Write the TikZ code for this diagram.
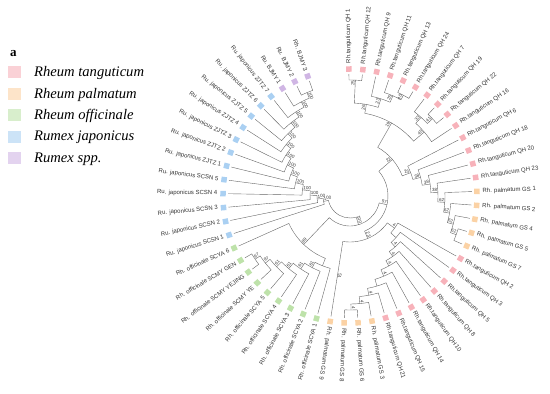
\documentclass[tikz,border=0pt]{standalone}
\usepackage{fontspec}
\setmainfont{Liberation Serif}
\newfontfamily\labfont{Liberation Sans}
\definecolor{tang}{RGB}{247,178,186}
\definecolor{palm}{RGB}{251,210,165}
\definecolor{offi}{RGB}{190,226,170}
\definecolor{japo}{RGB}{170,208,242}
\definecolor{rspp}{RGB}{208,182,228}
\tikzset{
  branch/.style={draw=black!60,line width=0.4pt},
  leafbox/.style={minimum size=5.5pt,inner sep=0pt},
  leaflab/.style={inner sep=0pt,text=black!80,font=\labfont\fontsize{6}{7}\selectfont},
  boot/.style={inner sep=0.6pt,text=black!80,font=\labfont\fontsize{4.5}{5}\selectfont},
  keybox/.style={minimum width=13pt,minimum height=12pt,inner sep=0pt},
  keytxt/.style={inner sep=0pt,anchor=base west,font=\itshape\fontsize{14.6}{16}\selectfont}
}
% clade: radius, first angle, its radius, last angle, its radius
\newcommand{\clade}[5]{\draw[branch] (#2:#3) -- (#2:#1) arc[start angle=#2,end angle=#4,radius=#1] -- (#4:#5);}
% bootstrap value at a node
\newcommand{\bsv}[3]{\ifdim#1pt>-100pt
  \node[boot,rotate=#1,anchor=south east] at (#1:#2) {#3};
  \else
  \node[boot,rotate=#1+180,anchor=south west] at (#1:#2) {#3};
  \fi}

\begin{document}
\begin{tikzpicture}[x=1pt,y=1pt]
\useasboundingbox (-350,-198) rectangle (200,196);

% legend
\node[font=\bfseries\fontsize{13}{13}\selectfont,inner sep=0pt] (keya) at (-336.7,142.7) {a};
\node[keybox,fill=tang!60] (k1) at (-335.5,123.7) {};
\node[keytxt] (t1) at (-316,119.3) {Rheum tanguticum};
\node[keybox,fill=palm!60] (k2) at (-335.5,102.3) {};
\node[keytxt] (t2) at (-316,97.9) {Rheum palmatum};
\node[keybox,fill=offi!60] (k3) at (-335.5,80.9) {};
\node[keytxt] (t3) at (-316,76.5) {Rheum officinale};
\node[keybox,fill=japo!60] (k4) at (-335.5,59.5) {};
\node[keytxt] (t4) at (-316,55.1) {Rumex japonicus};
\node[keybox,fill=rspp!60] (k5) at (-335.5,38.1) {};
\node[keytxt] (t5) at (-316,33.7) {Rumex spp.};

% leaves
\foreach \i/\txt/\col in {
 0/{Rh.tanguticum QH 1}/tang, 1/{Rh.tanguticum QH 12}/tang, 2/{Rh.tanguticum QH 9}/tang,
 3/{Rh.tanguticum QH 11}/tang, 4/{Rh.tanguticum QH 13}/tang, 5/{Rh.tanguticum QH 24}/tang,
 6/{Rh.tanguticum QH 7}/tang, 7/{Rh.tanguticum QH 19}/tang, 8/{Rh.tanguticum QH 22}/tang,
 9/{Rh.tanguticum QH 16}/tang, 10/{Rh.tanguticum QH 6}/tang, 11/{Rh.tanguticum QH 18}/tang,
 12/{Rh.tanguticum QH 20}/tang, 13/{Rh.tanguticum QH 23}/tang, 14/{Rh. palmatum GS 1}/palm,
 15/{Rh. palmatum GS 2}/palm, 16/{Rh. palmatum GS 4}/palm, 17/{Rh. palmatum GS 5}/palm,
 18/{Rh. palmatum GS 7}/palm, 19/{Rh.tanguticum QH 2}/tang, 20/{Rh.tanguticum QH 3}/tang,
 21/{Rh.tanguticum QH 5}/tang, 22/{Rh.tanguticum QH 8}/tang, 23/{Rh.tanguticum QH 10}/tang,
 24/{Rh.tanguticum QH 14}/tang, 25/{Rh.tanguticum QH 15}/tang, 26/{Rh.tanguticum QH 21}/tang,
 27/{Rh. palmatum GS 3}/palm, 28/{Rh. palmatum GS 6}/palm, 29/{Rh. palmatum GS 8}/palm,
 30/{Rh. palmatum GS 9}/palm, 31/{Rh. officinale SCYA 1}/offi, 32/{Rh. officinale SCYA 2}/offi,
 33/{Rh. officinale SCYA 3}/offi, 34/{Rh. officinale SCYA 4}/offi, 35/{Rh. officinale SCYA 5}/offi,
 36/{Rh. officinale SCMY YE}/offi, 37/{Rh. officinale SCMY YEJING}/offi,
 38/{Rh. officinale SCMY GEN}/offi, 39/{Rh. officinale SCYA 6}/offi,
 40/{Ru. japonicus SCSN 1}/japo, 41/{Ru. japonicus SCSN 2}/japo, 42/{Ru. japonicus SCSN 3}/japo,
 43/{Ru. japonicus SCSN 4}/japo, 44/{Ru. japonicus SCSN 5}/japo, 45/{Ru. japonicus ZJTZ 1}/japo,
 46/{Ru. japonicus ZJTZ 2}/japo, 47/{Ru. japonicus ZJTZ 3}/japo, 48/{Ru. japonicus ZJTZ 4}/japo,
 49/{Ru. japonicus ZJTZ 5}/japo, 50/{Ru. japonicus ZJTZ 6}/japo, 51/{Ru. japonicus ZJTZ 7}/japo,
 52/{Ru. BJMY 1}/rspp, 53/{Ru. BJMY 2}/rspp, 54/{Rh. BJMY 3}/rspp}{
  \pgfmathsetmacro\a{90.5-6.3158*\i}
  \node[leafbox,fill=\col,rotate=\a] (l\i) at (\a:127) {};
  \ifnum\i<31
    \node[leaflab,rotate=\a,anchor=west] (n\i) at (\a:132.5) {\txt};
  \else
    \node[leaflab,rotate=\a+180,anchor=east] (n\i) at (\a:132.5) {\txt};
  \fi
}

% tanguticum QH 1 - QH 16
\clade{116}{90.50}{122}{84.18}{122} \bsv{87.34}{116}{25}
\clade{114}{65.24}{122}{58.92}{122} \bsv{62.08}{114}{40}
\clade{109}{71.55}{122}{62.08}{114} \bsv{66.82}{109}{25}
\clade{102}{77.87}{122}{66.82}{109} \bsv{72.35}{102}{23}
\clade{93}{87.34}{116}{72.35}{102} \bsv{79.85}{93}{26}
\clade{113}{46.29}{122}{39.97}{122} \bsv{43.13}{113}{41}
\clade{106}{52.61}{122}{43.13}{113} \bsv{47.87}{106}{33}
\clade{98}{47.87}{106}{33.66}{122} \bsv{40.77}{98}{45}
\clade{84}{79.85}{93}{40.77}{98} \bsv{60.31}{84}{19}
% QH 6 - GS 7
\clade{113}{-16.87}{122}{-23.18}{122} \bsv{-20.03}{113}{62}
\clade{107}{-10.55}{122}{-20.03}{113} \bsv{-15.29}{107}{62}
\clade{101}{-4.24}{122}{-15.29}{107} \bsv{-9.77}{101}{62}
\clade{95}{2.08}{122}{-9.77}{101} \bsv{-3.85}{95}{62}
\clade{88}{8.39}{122}{-3.85}{95} \bsv{2.27}{88}{38}
\clade{81}{14.71}{122}{2.27}{88} \bsv{8.49}{81}{38}
\clade{73}{21.03}{122}{8.49}{81} \bsv{14.76}{73}{38}
\clade{65}{27.34}{122}{14.76}{73} \bsv{21.05}{65}{25}
\clade{56}{60.31}{84}{21.05}{65} \bsv{40.68}{56}{22}
% QH 2 - GS 9
\clade{114}{-86.34}{122}{-92.66}{122} \bsv{-89.50}{114}{4}
\clade{108}{-80.03}{122}{-89.50}{114} \bsv{-84.77}{108}{4}
\clade{101}{-73.71}{122}{-84.77}{108} \bsv{-79.24}{101}{4}
\clade{94}{-67.40}{122}{-79.24}{101}
\clade{87}{-61.08}{122}{-73.32}{94} \bsv{-67.20}{87}{4}
\clade{80}{-54.76}{122}{-67.20}{87} \bsv{-60.98}{80}{4}
\clade{74}{-48.45}{122}{-60.98}{80} \bsv{-54.72}{74}{4}
\clade{68}{-42.13}{122}{-54.72}{74} \bsv{-48.43}{68}{4}
\clade{62}{-35.82}{122}{-48.43}{68}
\clade{55}{-29.50}{122}{-42.13}{62} \bsv{-35.82}{55}{4}
\clade{46}{-35.82}{55}{-98.97}{122} \bsv{-67.40}{46}{23}
\node[boot,rotate=-98.97,anchor=south east] (b51) at (-98.97:84) {51};
\clade{38}{40.68}{56}{-67.40}{46} \bsv{-13.36}{38}{57}
% officinale
\clade{114}{-143.18}{122}{-149.50}{122} \bsv{-146.34}{114}{97}
\clade{108}{-136.87}{122}{-146.34}{114} \bsv{-141.61}{108}{97}
\clade{102}{-130.55}{122}{-141.61}{108} \bsv{-136.08}{102}{61}
\clade{95}{-124.24}{122}{-136.08}{102} \bsv{-130.16}{95}{61}
\clade{88}{-117.92}{122}{-130.16}{95} \bsv{-124.04}{88}{61}
\clade{81}{-111.61}{122}{-124.04}{88} \bsv{-117.83}{81}{61}
\clade{75}{-105.29}{122}{-117.83}{81}
\clade{67}{-111.56}{75}{-155.82}{122} \bsv{-133.69}{67}{89}
\clade{30}{-13.36}{38}{-133.69}{67} \bsv{-73.53}{30}{100}
% japonicus and BJMY
\clade{112}{-244.24}{122}{-250.55}{122} \bsv{-247.40}{112}{100}
\clade{106}{-237.92}{122}{-247.40}{112} \bsv{-242.66}{106}{100}
\clade{100}{-231.61}{122}{-242.66}{106} \bsv{-237.14}{100}{100}
\clade{94}{-225.29}{122}{-237.14}{100} \bsv{-231.22}{94}{100}
\clade{88}{-218.97}{122}{-231.22}{94} \bsv{-225.10}{88}{100}
\clade{82}{-212.66}{122}{-225.10}{88} \bsv{-218.88}{82}{100}
\clade{76}{-206.34}{122}{-218.88}{82} \bsv{-212.61}{76}{100}
\clade{70}{-200.03}{122}{-212.61}{76} \bsv{-206.32}{70}{100}
\clade{63}{-193.71}{122}{-206.32}{70} \bsv{-200.02}{63}{100}
\clade{56}{-187.39}{122}{-200.02}{63} \bsv{-193.71}{56}{100}
\clade{48}{-181.08}{122}{-193.71}{56} \bsv{-187.40}{48}{100}
\clade{40}{-174.76}{122}{-187.40}{48} \bsv{-181.08}{40}{100}
\clade{33}{-168.45}{122}{-181.08}{40} \bsv{-174.77}{33}{100}
\clade{27}{-162.13}{122}{-174.77}{33} \bsv{-168.45}{27}{100}
% root
\clade{22}{-73.53}{30}{-168.45}{27}
\end{tikzpicture}
\end{document}
